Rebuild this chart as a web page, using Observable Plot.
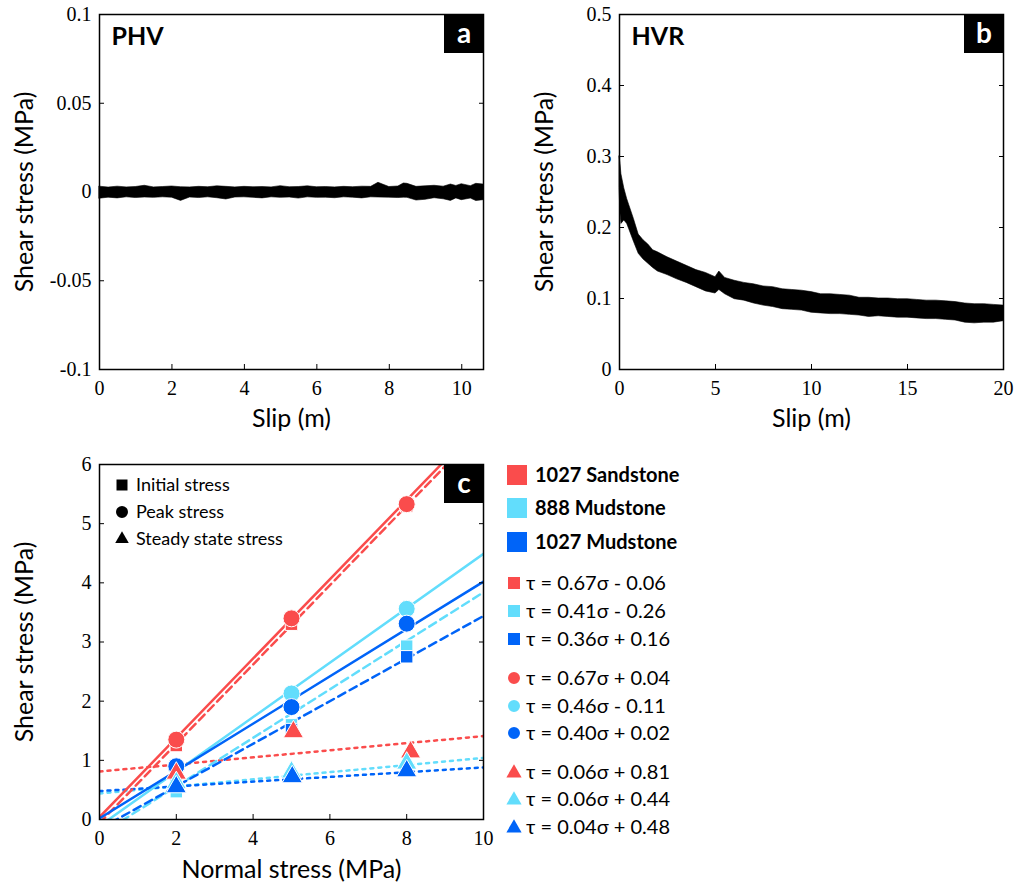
<!DOCTYPE html>
<html><head><meta charset="utf-8">
<script src="https://cdn.jsdelivr.net/npm/d3@7"></script>
<script src="https://cdn.jsdelivr.net/npm/@observablehq/plot@0.6"></script>
<style>
body{margin:0;background:#fff;}
#root{position:relative;width:1016px;height:886px;overflow:hidden;background:#fff;}
.panel{position:absolute;}
</style></head><body><div id="root"></div>
<script>
// ---------- Panel a: PHV (envelope of noisy shear stress record, MPa) ----------
const slipA = [0,0.25,0.5,0.75,1,1.25,1.5,1.75,2,2.25,2.5,2.75,3,3.25,3.5,3.75,4,4.25,4.5,4.75,5,5.25,5.5,5.75,6,6.25,6.5,6.75,7,7.25,7.5,7.7,8,8.25,8.4,8.5,8.75,9,9.25,9.5,9.7,9.85,10,10.25,10.4,10.6];
const upperA = [0.0030,0.0025,0.0030,0.0026,0.0028,0.0035,0.0026,0.0028,0.0031,0.0027,0.0026,0.0029,0.0027,0.0032,0.0029,0.0026,0.0029,0.0027,0.0028,0.0026,0.0033,0.0027,0.0028,0.0032,0.0027,0.0028,0.0026,0.0029,0.0027,0.0030,0.0029,0.0052,0.0028,0.0031,0.0048,0.0046,0.0029,0.0032,0.0035,0.0030,0.0042,0.0034,0.0044,0.0033,0.0046,0.0042];
const lowerA = [-0.0038,-0.0032,-0.0036,-0.0030,-0.0034,-0.0031,-0.0033,-0.0030,-0.0032,-0.0050,-0.0031,-0.0034,-0.0030,-0.0035,-0.0042,-0.0031,-0.0030,-0.0033,-0.0036,-0.0030,-0.0033,-0.0031,-0.0037,-0.0030,-0.0033,-0.0032,-0.0035,-0.0030,-0.0032,-0.0036,-0.0030,-0.0031,-0.0032,-0.0034,-0.0032,-0.0033,-0.0048,-0.0044,-0.0035,-0.0041,-0.0050,-0.0036,-0.0046,-0.0037,-0.0051,-0.0046];
const xTicksA = [0,2,4,6,8,10];
const yTicksA = [-0.1,-0.05,0,0.05,0.1];

// ---------- Panel b: HVR ----------
const slipB = [0,0.05,0.1,0.25,0.4,0.5,0.75,1,1.25,1.5,1.75,2,2.5,3,3.5,4,4.5,5,5.2,5.5,6,6.5,7,7.5,8,8.5,9,9.5,10,10.5,11,11.5,12,12.5,13,13.5,14,14.5,15,15.5,16,16.5,17,17.5,18,18.5,19,19.5,20];
const upperB = [0.300,0.290,0.275,0.255,0.240,0.232,0.212,0.190,0.182,0.176,0.168,0.165,0.158,0.152,0.146,0.140,0.136,0.130,0.138,0.129,0.125,0.122,0.120,0.117,0.116,0.113,0.112,0.111,0.109,0.106,0.106,0.105,0.104,0.101,0.101,0.100,0.100,0.099,0.099,0.098,0.097,0.097,0.096,0.095,0.093,0.092,0.092,0.091,0.090];
const lowerB = [0.255,0.220,0.205,0.210,0.205,0.198,0.180,0.163,0.155,0.149,0.143,0.138,0.133,0.127,0.122,0.116,0.110,0.107,0.112,0.106,0.099,0.097,0.093,0.090,0.088,0.085,0.084,0.083,0.080,0.079,0.078,0.078,0.077,0.076,0.074,0.075,0.074,0.073,0.073,0.072,0.071,0.071,0.070,0.069,0.066,0.065,0.066,0.066,0.068];
const xTicksB = [0,5,10,15,20];
const yTicksB = [0,0.1,0.2,0.3,0.4,0.5];

// ---------- Panel c ----------
const lithology = ["1027 Sandstone","888 Mudstone","1027 Mudstone"];
const lithColors = ["#fa4c4c","#62ddfc","#0064f8"];
const normalStress = [2,5,8];
const initialStress = [[1.25,3.30,5.30],[0.47,1.60,2.93],[0.60,1.52,2.75]];
const peakStress    = [[1.35,3.40,5.33],[0.88,2.13,3.56],[0.90,1.90,3.31]];
const steadyNormal  = [[2,5.05,8.1],[2,5,8],[2,5.02,8]];
const steadyStress  = [[0.78,1.48,1.14],[0.62,0.80,0.95],[0.55,0.72,0.82]];
// fitted lines as drawn (slope, intercept)
const initialSlope = [0.67,0.41,0.36], initialIntercept = [-0.06,-0.26,-0.16];
const peakSlope    = [0.67,0.46,0.40], peakIntercept    = [0.04,-0.11,0.02];
const steadySlope  = [0.06,0.06,0.04], steadyIntercept  = [0.81,0.44,0.48];
const fitRange = [0,10];
const xTicksC = [0,2,4,6,8,10];
const yTicksC = [0,1,2,3,4,5,6];
const stressTypes = ["Initial stress","Peak stress","Steady state stress"];
const legendEquations = [
  ["τ = 0.67σ - 0.06","τ = 0.41σ - 0.26","τ = 0.36σ + 0.16"],
  ["τ = 0.67σ + 0.04","τ = 0.46σ - 0.11","τ = 0.40σ + 0.02"],
  ["τ = 0.06σ + 0.81","τ = 0.06σ + 0.44","τ = 0.04σ + 0.48"]
];

const SERIF = "Liberation Serif";
const SANS = "Lato, 'Open Sans', sans-serif";
const root = document.getElementById("root");

function axes(xTicks, yTicks) {
  const fmt = d => String(d);
  return [
    Plot.axisX(xTicks, {anchor:"bottom", tickSize:0, tickPadding:11, fontSize:20, fontFamily:SERIF, tickFormat:fmt, label:null, fill:"black"}),
    Plot.axisX(xTicks, {anchor:"bottom", tickSize:5, dy:-5, fill:"none", label:null, stroke:"black"}),
    Plot.axisY(yTicks, {anchor:"left", tickSize:0, tickPadding:8, fontSize:20, fontFamily:SERIF, tickFormat:fmt, label:null, fill:"black"}),
    Plot.axisY(yTicks, {anchor:"left", tickSize:5, dx:5, fill:"none", label:null, stroke:"black"}),
    Plot.axisY(yTicks, {anchor:"right", tickSize:5, dx:-5, fill:"none", label:null, stroke:"black"})
  ];
}
function badge(letter) {
  return (index, scales, values, dims) => {
    const g = d3.create("svg:g");
    const x = dims.width - dims.marginRight - 39, y = dims.marginTop;
    g.append("rect").attr("x", x).attr("y", y).attr("width", 39).attr("height", 39).attr("fill", "black");
    g.append("text").attr("x", x + 20).attr("y", y + 19).attr("dy", "0.35em").attr("text-anchor", "middle")
      .attr("fill", "white").attr("font-family", SANS).attr("font-weight", "bold").attr("font-size", 28).text(letter);
    return g.node();
  };
}
function titles(name, xlabel, ylabel, xdy) {
  const m = [
    Plot.text([xlabel], {frameAnchor:"bottom", dy:xdy, lineAnchor:"top", textAnchor:"middle", fontFamily:SANS, fontSize:25, fill:"black"}),
    Plot.text([ylabel], {frameAnchor:"left", dx:-75, rotate:-90, lineAnchor:"middle", textAnchor:"middle", fontFamily:SANS, fontSize:25, fill:"black"})
  ];
  if (name) m.push(Plot.text([name], {frameAnchor:"top-left", dx:12, dy:13, lineAnchor:"top", textAnchor:"start", fontFamily:SANS, fontWeight:"bold", fontSize:25, fill:"black"}));
  return m;
}
function place(node, left, top) {
  const d = document.createElement("div");
  d.className = "panel"; d.style.left = left + "px"; d.style.top = top + "px";
  d.appendChild(node); root.appendChild(d);
}
const plotStyle = {background: "transparent", overflow: "visible"};

// Panel a
const dataA = slipA.map((s, i) => ({slip: s, hi: upperA[i], lo: lowerA[i]}));
place(Plot.plot({
  width: 500, height: 440, marginTop: 14, marginRight: 17, marginBottom: 71, marginLeft: 99,
  x: {domain: [0, 10.6]}, y: {domain: [-0.1, 0.1]},
  style: plotStyle,
  marks: [
    Plot.areaY(dataA, {x: "slip", y1: "lo", y2: "hi", fill: "black", stroke: "black", strokeWidth: 0.6}),
    ...axes(xTicksA, yTicksA),
    Plot.frame({stroke: "black", strokeWidth: 1.5}),
    ...titles("PHV", "Slip (m)", "Shear stress (MPa)", 40),
    badge("a")
  ]
}), 0, 0);

// Panel b
const dataB = slipB.map((s, i) => ({slip: s, hi: upperB[i], lo: lowerB[i]}));
place(Plot.plot({
  width: 496, height: 440, marginTop: 14, marginRight: 13, marginBottom: 71, marginLeft: 99,
  x: {domain: [0, 20]}, y: {domain: [0, 0.5]},
  style: plotStyle,
  marks: [
    Plot.areaY(dataB, {x: "slip", y1: "lo", y2: "hi", fill: "black", stroke: "black", strokeWidth: 0.6}),
    ...axes(xTicksB, yTicksB),
    Plot.frame({stroke: "black", strokeWidth: 1.5}),
    ...titles("HVR", "Slip (m)", "Shear stress (MPa)", 40),
    badge("b")
  ]
}), 520, 0);

// Panel c
function fitRows(slopes, intercepts) {
  return lithology.map((lith, i) => fitRange.map(x => ({x, y: slopes[i] * x + intercepts[i], i})));
}
function pointRows(xs, ys) {
  return lithology.map((lith, i) => xs[i].map((x, j) => ({x, y: ys[i][j], i})));
}
const fitsInitial = fitRows(initialSlope, initialIntercept);
const fitsPeak = fitRows(peakSlope, peakIntercept);
const fitsSteady = fitRows(steadySlope, steadyIntercept);
const ptsInitial = pointRows(lithology.map(() => normalStress), initialStress);
const ptsPeak = pointRows(lithology.map(() => normalStress), peakStress);
const ptsSteady = pointRows(steadyNormal, steadyStress);

const lineMarks = [];
[0,1,2].forEach(i => {
  lineMarks.push(Plot.line(fitsSteady[i], {x:"x", y:"y", stroke: lithColors[i], strokeWidth: 2.5, strokeDasharray: "3,5", clip: true}));
});
[0,1,2].forEach(i => {
  lineMarks.push(Plot.line(fitsInitial[i], {x:"x", y:"y", stroke: lithColors[i], strokeWidth: 2.5, strokeDasharray: "8,5", clip: true}));
});
[0,1,2].forEach(i => {
  lineMarks.push(Plot.line(fitsPeak[i], {x:"x", y:"y", stroke: lithColors[i], strokeWidth: 2.5, clip: true}));
});
const dotMarks = [];
[0,1,2].forEach(i => dotMarks.push(Plot.dot(ptsInitial[i], {x:"x", y:"y", symbol:"square", r:7, fill: lithColors[i], stroke:"white", strokeWidth:1})));
[0,1,2].forEach(i => dotMarks.push(Plot.dot(ptsPeak[i], {x:"x", y:"y", symbol:"circle", r:8.5, fill: lithColors[i], stroke:"white", strokeWidth:1})));
[0,1,2].forEach(i => dotMarks.push(Plot.dot(ptsSteady[i], {x:"x", y:"y", symbol:"triangle", r:7.5, fill: lithColors[i], stroke:"white", strokeWidth:1})));

const legendSymbols = [d3.symbolSquare, d3.symbolCircle, d3.symbolTriangle];
function stressLegend(index, scales, values, dims) {
  const g = d3.create("svg:g");
  const sizes = [121, 113, 80];
  stressTypes.forEach((name, i) => {
    const cy = dims.marginTop + 21 + i * 27;
    g.append("path").attr("transform", `translate(${dims.marginLeft + 23},${cy})`)
      .attr("d", d3.symbol(legendSymbols[i], sizes[i])()).attr("fill", "black");
    g.append("text").attr("x", dims.marginLeft + 37).attr("y", cy).attr("dy", "0.35em").attr("text-anchor", "start")
      .attr("font-family", SANS).attr("font-size", 18).attr("fill", "black").text(name);
  });
  return g.node();
}

place(Plot.plot({
  width: 500, height: 436, marginTop: 14, marginRight: 17, marginBottom: 67, marginLeft: 99,
  x: {domain: [0, 10]}, y: {domain: [0, 6]},
  style: plotStyle,
  marks: [
    ...lineMarks,
    ...dotMarks,
    ...axes(xTicksC, yTicksC),
    Plot.frame({stroke: "black", strokeWidth: 1.5}),
    ...titles("", "Normal stress (MPa)", "Shear stress (MPa)", 41),
    stressLegend,
    badge("c")
  ]
}), 0, 450);

// Right legend
const lg = d3.create("svg").attr("width", 250).attr("height", 400).style("font-family", SANS).attr("text-anchor", "start");
const L0 = 500, T0 = 455;
lithology.forEach((name, i) => {
  const cy = [475, 508, 542][i] - T0;
  lg.append("rect").attr("x", 507 - L0).attr("y", cy - 10).attr("width", 20).attr("height", 20).attr("fill", lithColors[i]);
  lg.append("text").attr("x", 535 - L0).attr("y", cy).attr("dy", "0.35em").attr("font-size", 20).attr("font-weight", "bold").attr("fill", "black").text(name);
});
const eqRows = [[583, 611, 639], [678, 706, 733], [772, 799, 827]];
const eqSizes = [144, 113, 100];
legendEquations.forEach((eqs, t) => {
  eqs.forEach((eq, i) => {
    const cy = eqRows[t][i] - T0;
    lg.append("path").attr("transform", `translate(${514 - L0},${cy + (t === 2 ? 1 : 0)})`)
      .attr("d", d3.symbol(legendSymbols[t], eqSizes[t])()).attr("fill", lithColors[i]);
    lg.append("text").attr("x", 526 - L0).attr("y", cy).attr("dy", "0.35em").attr("font-size", 20).attr("fill", "black").text(eq);
  });
});
place(lg.node(), L0, T0);
</script></body></html>
